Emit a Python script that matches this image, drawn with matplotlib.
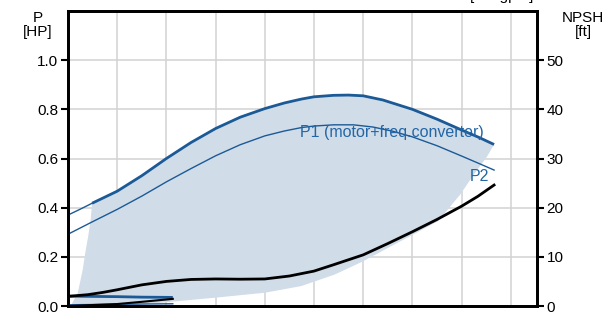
import matplotlib
matplotlib.use("Agg")
import matplotlib.pyplot as plt

plt.rcParams['font.family'] = ['Liberation Sans', 'DejaVu Sans']

# Flow positions (grid units) and values
p1_max_q = [0.49, 1.0, 1.5, 2.0, 2.5, 3.0, 3.5, 4.0, 4.4, 4.75, 5.0, 5.4, 5.7, 6.0, 6.4, 7.0, 7.5, 8.0, 8.35, 8.66]
p1_max_p = [0.418, 0.467, 0.530, 0.600, 0.665, 0.722, 0.768, 0.803, 0.826, 0.842, 0.851, 0.857, 0.858, 0.855, 0.838, 0.800, 0.760, 0.716, 0.686, 0.657]
p1_lead_q = [0.0, 0.25, 0.49]
p1_lead_p = [0.370, 0.394, 0.418]

p2_q = [0.0, 0.5, 1.0, 1.5, 2.0, 2.5, 3.0, 3.5, 4.0, 4.4, 4.75, 5.0, 5.4, 5.8, 6.2, 6.6, 7.0, 7.5, 8.0, 8.35, 8.66]
p2_p = [0.292, 0.343, 0.393, 0.447, 0.505, 0.559, 0.611, 0.656, 0.692, 0.712, 0.726, 0.732, 0.737, 0.737, 0.728, 0.711, 0.688, 0.652, 0.610, 0.580, 0.553]

npsh_q = [0.05, 0.4, 0.7, 1.0, 1.5, 2.0, 2.5, 3.0, 3.5, 4.0, 4.5, 5.0, 5.4, 6.0, 6.5, 7.0, 7.5, 8.0, 8.33, 8.66]
npsh_ft = [2.0, 2.3, 2.75, 3.3, 4.3, 5.0, 5.4, 5.5, 5.45, 5.5, 6.1, 7.1, 8.4, 10.4, 12.7, 15.1, 17.6, 20.3, 22.3, 24.6]

# low-speed curves at bottom left
low_q = [0.04, 0.5, 1.0, 1.5, 2.13]
low_p1 = [0.040, 0.039, 0.038, 0.036, 0.035]
low_p2 = [0.005, 0.006, 0.007, 0.008, 0.009]
low_npsh = [0.0, 0.2, 0.4, 0.85, 1.45]

# operating area boundary
area_left_q = [0.054, 0.2, 0.3, 0.35, 0.41, 0.46, 0.49]
area_left_p = [0.0, 0.054, 0.148, 0.215, 0.283, 0.35, 0.418]
area_bot_q = [8.66, 8.52, 8.25, 7.97, 7.75, 7.52, 7.0, 6.5, 6.0, 5.42, 4.74, 4.0, 3.0, 2.03, 1.2]
area_bot_p = [0.657, 0.609, 0.535, 0.453, 0.40, 0.345, 0.289, 0.236, 0.182, 0.128, 0.081, 0.054, 0.034, 0.016, 0.0]

blue = "#1b5a96"
label_blue = "#2366a6"
fill = "#d0dce8"
grid = "#d2d2d2"

fig = plt.figure(figsize=(6.13, 3.13), dpi=100)
ax = fig.add_axes([68 / 613, 7 / 313, 469 / 613, 295 / 313])
ax.set_xlim(0, 469 / 49.2)
ax.set_ylim(0, 1.2)

poly_q = area_left_q + p1_max_q + area_bot_q
poly_p = area_left_p + p1_max_p + area_bot_p
ax.fill(poly_q, poly_p, color=fill, lw=0, zorder=1)

ax.set_xticks(range(1, 10))
ax.set_yticks([0.0, 0.2, 0.4, 0.6, 0.8, 1.0])
ax.grid(True, color=grid, lw=1.1, zorder=0)
ax.set_axisbelow(True)

ax.plot(p1_lead_q, p1_lead_p, color=blue, lw=1.0, zorder=3)
ax.plot(p1_max_q, p1_max_p, color=blue, lw=2.0, zorder=3, solid_capstyle="butt", solid_joinstyle="round")
ax.plot(p2_q, p2_p, color=blue, lw=1.0, zorder=3, solid_joinstyle="round")
ax.plot(low_q, low_p1, color=blue, lw=2.0, zorder=3, solid_capstyle="butt")
ax.plot(low_q, low_p2, color=blue, lw=1.0, zorder=3)

ax2 = ax.twinx()
ax2.set_ylim(0, 60)
ax2.set_yticks([0, 10, 20, 30, 40, 50])
ax2.plot(npsh_q, npsh_ft, color="black", lw=2.0, zorder=4, solid_joinstyle="round")
ax2.plot(low_q, low_npsh, color="black", lw=1.5, zorder=4)

for a in (ax, ax2):
    for s in a.spines.values():
        s.set_linewidth(2.0)
        s.set_color("black")
ax.tick_params(axis="x", length=0, labelbottom=False)
ax.tick_params(axis="y", direction="out", length=5, width=1.5, labelsize=11, pad=2)
ax2.tick_params(axis="y", direction="out", length=5, width=1.5, labelsize=11, pad=2)
ax.set_yticklabels(["0.0", "0.2", "0.4", "0.6", "0.8", "1.0"])

fig.text(38 / 613, 1 - 25 / 313, "P\n[HP]", ha="center", va="center", fontsize=11, linespacing=0.95)
fig.text(583 / 613, 1 - 25 / 313, "NPSH\n[ft]", ha="center", va="center", fontsize=11, linespacing=0.95)
fig.text(470 / 613, 1.0, "[US gpm]", ha="left", va="baseline", fontsize=11)

ax.text((392 - 68) / 49.2, (306 - 133) / 245, "P1 (motor+freq.converter)", color=label_blue,
        ha="center", va="center", fontsize=11.5, zorder=5)
ax.text((479 - 68) / 49.2, (306 - 177) / 245, "P2", color=label_blue,
        ha="center", va="center", fontsize=11.5, zorder=5)

fig.savefig("out.png", dpi=100)
